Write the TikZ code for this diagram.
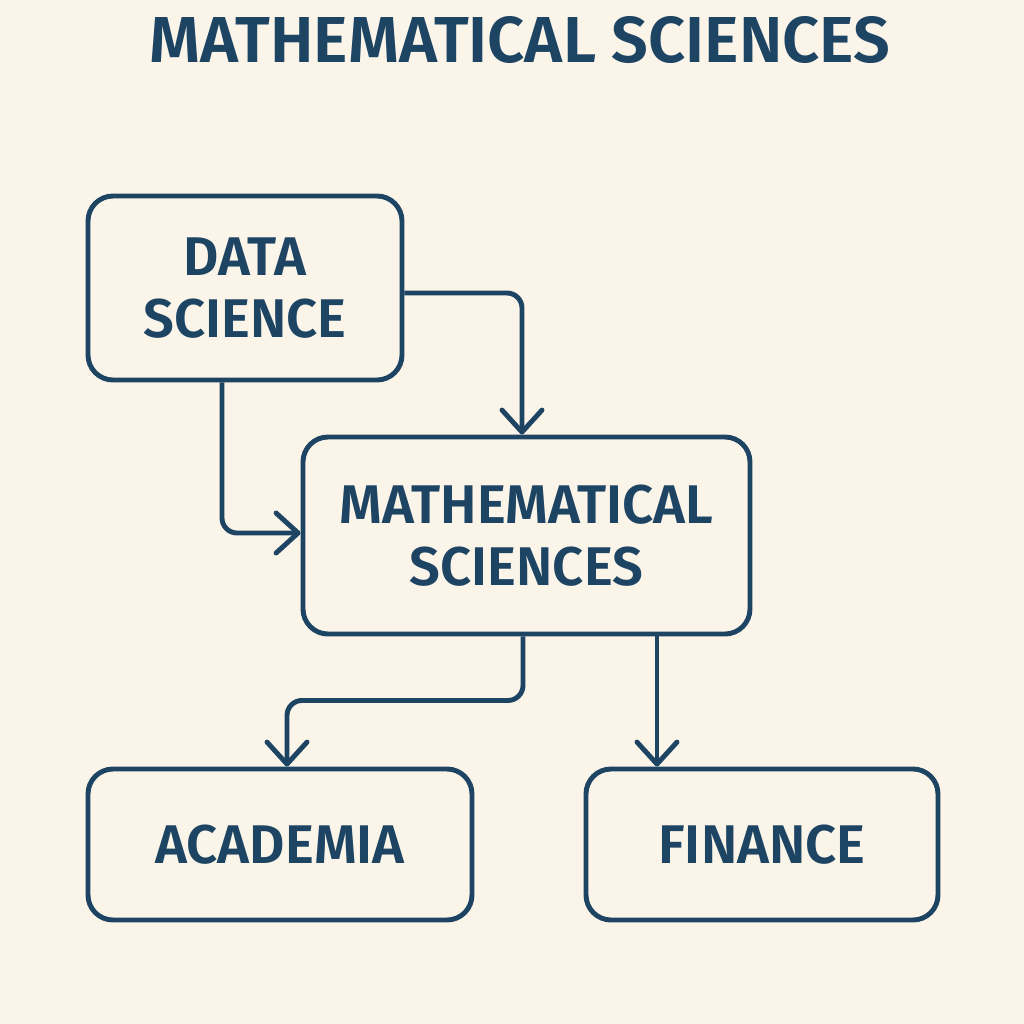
\documentclass[tikz,border=0pt]{standalone}
\usepackage{fontspec}
\newfontfamily\labelfont[BoldFont = {Fira Sans SemiBold}]{Fira Sans}
\usetikzlibrary{arrows.meta}
\definecolor{navy}{HTML}{1D4463}
\definecolor{cream}{HTML}{FAF4E9}
\begin{document}
\begin{tikzpicture}[align = center,
        box/.style = {draw = navy, line width = 1.4pt, rounded corners = 0.25cm, inner sep = 0pt,
            text = navy, font = \labelfont\bfseries\fontsize{15.5}{17.6}\selectfont},
        link/.style = {draw = navy, line width = 1.4pt, rounded corners = 0.15cm,
            -{Straight Barb[length = 0.22cm, width = 0.4cm, round]}}]
        \fill[cream] (0, 0) rectangle (10.24, -10.24);
        \node[text = navy, font = \labelfont\bfseries\fontsize{18.5}{20}\selectfont] (title) at (5.2, -0.4) {MATHEMATICAL SCIENCES};
        \node[box, minimum width = 3.14cm, minimum height = 1.84cm] (data) at (2.45, -2.88) {DATA\\SCIENCE};
        \node[box, minimum width = 4.47cm, minimum height = 1.97cm] (math) at (5.265, -5.355) {MATHEMATICAL\\SCIENCES};
        \node[box, minimum width = 3.84cm, minimum height = 1.51cm] (acad) at (2.80, -8.445) {ACADEMIA};
        \node[box, minimum width = 3.52cm, minimum height = 1.51cm] (fin) at (7.62, -8.445) {FINANCE};
        \draw[link] ([yshift = -0.05cm]data.east) -| ([xshift = -0.045cm]math.north);
        \draw[link] ([xshift = -0.23cm]data.south) |- ([yshift = 0.025cm]math.west);
        \draw[link] ([xshift = -0.035cm]math.south) -- ++(0, -0.64) -| ([xshift = 0.07cm]acad.north);
        \draw[link] ([xshift = 1.305cm]math.south) -- ([xshift = 1.305cm]math.south |- fin.north);
    \end{tikzpicture}
\end{document}
